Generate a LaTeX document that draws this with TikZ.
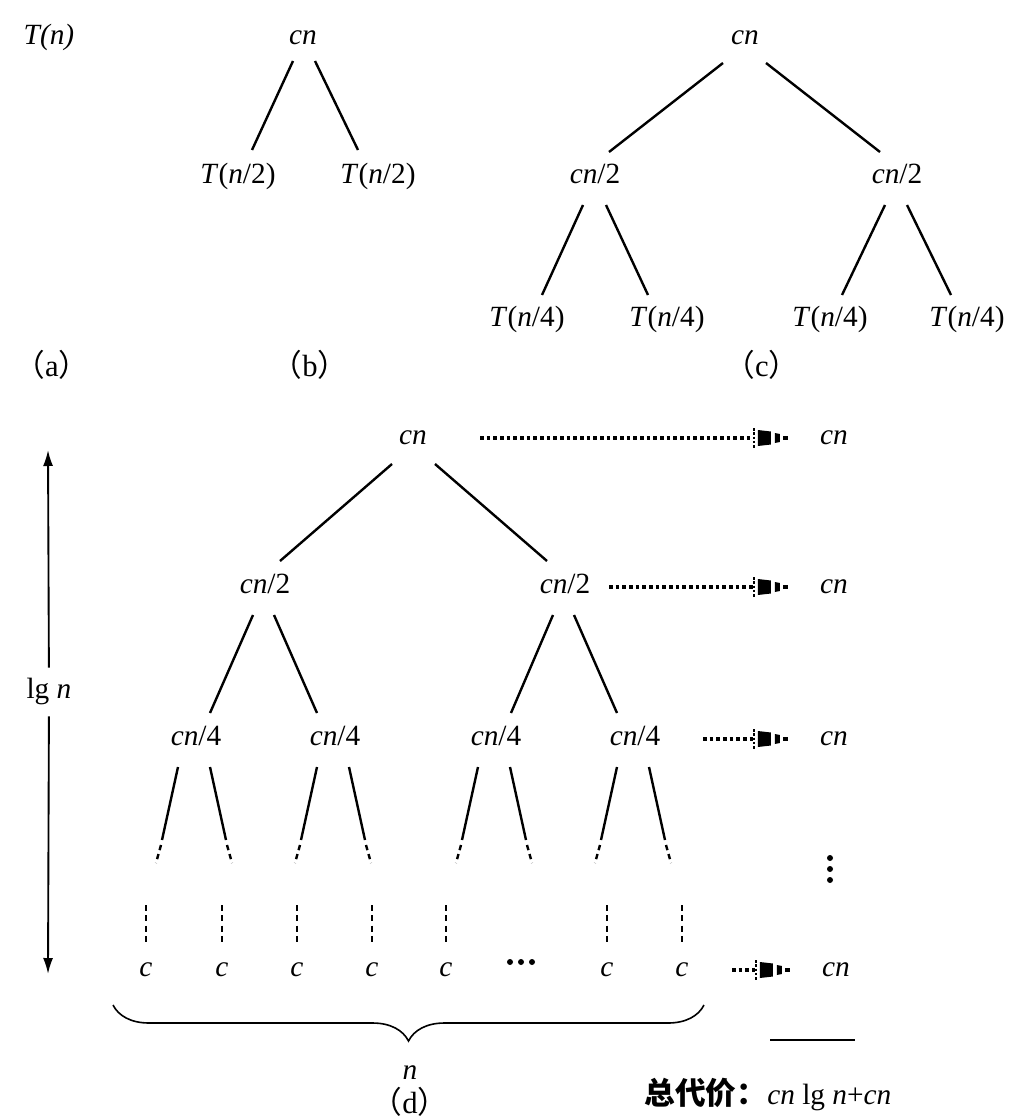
\documentclass[tikz,border=0pt]{standalone}
\usepackage{fontspec}
\setmainfont{Liberation Serif}
\newfontfamily\cjk{Noto Sans CJK SC}
\usetikzlibrary{arrows.meta,calc,decorations.pathreplacing}
\newcommand\mi[1]{\textit{#1}}
\newcommand\sublab[1]{{\cjk （}#1{\cjk ）}}
% striped arrow head ending at the given coordinate (pointing right)
\newcommand\stripetip[1]{%
  \begin{scope}[shift={(#1)}]
    \draw[line width=1pt, dash pattern=on 2pt off 1.2pt] (-34,-10) -- (-34,10);
    \fill (-30,-8) -- (-17,-6.5) -- (-17,6.5) -- (-30,8) -- cycle;
    \fill (-13,-5) -- (-8,-4) -- (-8,4) -- (-13,5) -- cycle;
    \fill (-5,-1.6) rectangle (0,1.6);
  \end{scope}}
\begin{document}
\begin{tikzpicture}[x=0.75pt,y=-0.75pt,
  txt/.style={font=\fontsize{22}{26}\selectfont, inner sep=0pt, text height=15pt, text depth=5pt},
  sublbl/.style={font=\fontsize{23}{26}\selectfont, inner sep=0pt, anchor=base},
  edge/.style={line width=1.8pt},
  dashedge/.style={line width=1.8pt, dash pattern=on 4pt off 3pt},
  vdash/.style={line width=1.5pt, dash pattern=on 4.5pt off 3.2pt},
  vec/.style={line width=1.4pt, -{Latex[length=12pt,width=7.5pt]}, shorten <=8pt},
  brace/.style={line width=1.2pt, decorate, decoration={brace, mirror, amplitude=27pt}},
  dot/.style={fill=black, inner sep=0pt, minimum size=4.5pt, circle},
  dotline/.style={line width=2.6pt, dash pattern=on 2.8pt off 2.2pt, shorten >=26.5pt}
]
\useasboundingbox (0,0) rectangle (1030,1120);

% ---------- (a)
\node[txt] (ta) at (49,38) {\mi{T(n)}};
\node[sublbl] (la) at (52,376) {\sublab{a}};

% ---------- (b)
\node[txt] (b0) at (303,38) {\mi{cn}};
\node[txt] (b1) at (238,177) {\mi{T}(\mi{n}/2)};
\node[txt] (b2) at (378,177) {\mi{T}(\mi{n}/2)};
\node[sublbl] (lb) at (310,376) {\sublab{b}};
\draw[edge] ($(b0)+(-10,23)$) -- ($(b1)+(14,-27)$);
\draw[edge] ($(b0)+(12,23)$) -- ($(b2)+(-20,-27)$);

% ---------- (c)
\node[txt] (c0) at (745,38) {\mi{cn}};
\node[txt] (c1) at (595,177) {\mi{cn}/2};
\node[txt] (c2) at (897,177) {\mi{cn}/2};
\node[txt] (c3) at (527,320) {\mi{T}(\mi{n}/4)};
\node[txt] (c4) at (667,320) {\mi{T}(\mi{n}/4)};
\node[txt] (c5) at (830,320) {\mi{T}(\mi{n}/4)};
\node[txt] (c6) at (967,320) {\mi{T}(\mi{n}/4)};
\node[sublbl] (lc) at (762,376) {\sublab{c}};
\draw[edge] ($(c0)+(-22,25)$) -- ($(c1)+(14,-25)$);
\draw[edge] ($(c0)+(21,25)$) -- ($(c2)+(-17,-25)$);
\draw[edge] ($(c1)+(-12,28)$) -- ($(c3)+(15,-25)$);
\draw[edge] ($(c1)+(11,28)$) -- ($(c4)+(-19,-25)$);
\draw[edge] ($(c2)+(-12,28)$) -- ($(c5)+(12,-25)$);
\draw[edge] ($(c2)+(10,28)$) -- ($(c6)+(-16,-25)$);

% ---------- (d) tree
\node[txt] (d0) at (413,438) {\mi{cn}};
\node[txt] (d1) at (265,587) {\mi{cn}/2};
\node[txt] (d2) at (565,587) {\mi{cn}/2};
\node[txt] (q1) at (196,739) {\mi{cn}/4};
\node[txt] (q2) at (335,739) {\mi{cn}/4};
\node[txt] (q3) at (496,739) {\mi{cn}/4};
\node[txt] (q4) at (635,739) {\mi{cn}/4};
\draw[edge] ($(d0)+(-21,26)$) -- ($(d1)+(15,-26)$);
\draw[edge] ($(d0)+(22,26)$) -- ($(d2)+(-18,-26)$);
\draw[edge] ($(d1)+(-12,28)$) -- ($(q1)+(14,-26)$);
\draw[edge] ($(d1)+(9,28)$) -- ($(q2)+(-18,-26)$);
\draw[edge] ($(d2)+(-12,28)$) -- ($(q3)+(15,-26)$);
\draw[edge] ($(d2)+(9,28)$) -- ($(q4)+(-18,-26)$);
\foreach \q in {q1,q2,q3,q4}{
  \draw[edge] ($(\q)+(-18,28)$) -- ($(\q)+(-34,101)$);
  \draw[dashedge] ($(\q)+(-35,106)$) -- ($(\q)+(-40,124)$);
  \draw[edge] ($(\q)+(14,28)$) -- ($(\q)+(30,101)$);
  \draw[dashedge] ($(\q)+(31,106)$) -- ($(\q)+(36,124)$);
}

% leaves
\foreach \i/\x in {1/146,2/222,3/297,4/372,5/446,6/607,7/682}{
  \node[txt] (l\i) at (\x,970) {\mi{c}};
  \draw[vdash] ($(l\i)+(0,-65)$) -- ($(l\i)+(0,-25)$);
}
\foreach \i/\x in {1/510,2/521,3/532}{
  \node[dot] (hd\i) at (\x,962) {};
}

% brace and labels
\coordinate (bl) at (113,1005);
\coordinate (br) at (704,1005);
\draw[brace] (bl) -- (br);
\node[txt] (nn) at (410,1073) {\mi{n}};
\node[sublbl] (ld) at (410,1113) {\sublab{d}};

% right column
\node[txt] (r0) at (834,438) {\mi{cn}};
\node[txt] (r1) at (834,587) {\mi{cn}};
\node[txt] (r2) at (834,739) {\mi{cn}};
\foreach \i/\y in {1/858,2/869,3/880}{
  \node[dot] (vd\i) at (830,\y) {};
}
\node[txt] (r3) at (836,970) {\mi{cn}};
\coordinate (s0) at (480,438);
\coordinate (s1) at (609,587);
\coordinate (s2) at (703,739);
\coordinate (s3) at (732,970);
\foreach \i in {0,1,2,3}{
  \coordinate (e\i) at ($(r\i.west)+(-32,0)$);
  \draw[dotline] (s\i) -- (e\i);
  \stripetip{e\i}
}

\coordinate (hl) at (770,1040);
\coordinate (hr) at (855,1040);
\draw[line width=1.3pt] (hl) -- (hr);
\node[txt, anchor=base] (tot) at (768,1104) {{\cjk\fontsize{23}{28}\selectfont\bfseries 总代价：}\mi{cn} lg \mi{n}+\mi{cn}};

% lg n arrow
\node[txt] (lg) at (49,692) {lg \mi{n}};
\coordinate (atop) at (48,450);
\coordinate (abot) at (48,974);
\draw[vec] (lg) -- (atop);
\draw[vec] (lg) -- (abot);
\end{tikzpicture}
\end{document}
